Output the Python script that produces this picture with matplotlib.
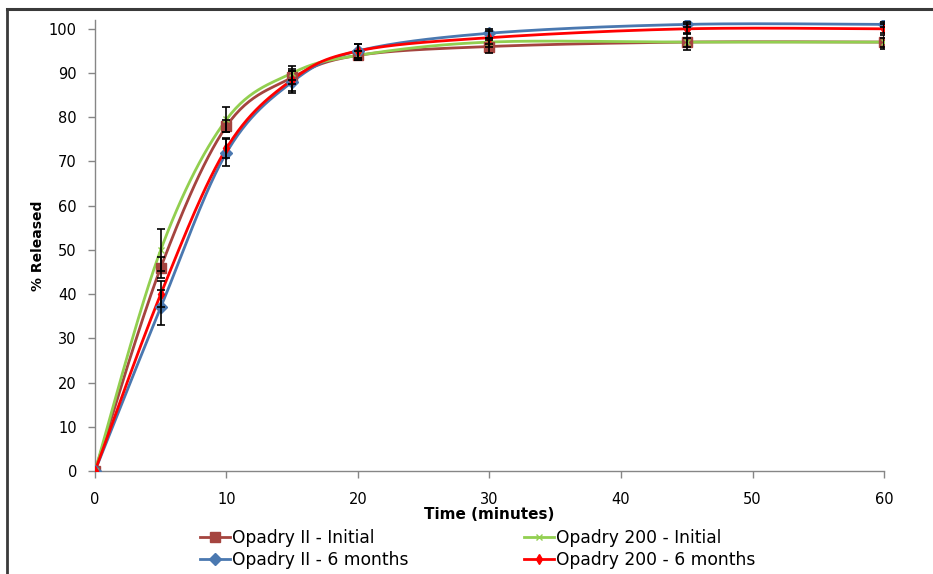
import numpy as np
import matplotlib
matplotlib.use('Agg')
import matplotlib.pyplot as plt
from matplotlib.lines import Line2D

time_min = [0, 5, 10, 15, 20, 30, 45, 60]

opadry2_init = [0, 46, 78, 89, 94, 96, 97, 97]
opadry2_init_sd = [0, 2.4, 1.3, 1.5, 1.0, 1.5, 1.8, 1.5]

opadry200_init = [0, 50, 79.5, 90, 94, 97, 97, 97]
opadry200_init_sd = [0, 4.7, 2.8, 1.5, 1.0, 1.0, 1.0, 1.0]

opadry2_6m = [0, 37, 72, 88, 95, 99, 101, 101]
opadry2_6m_sd = [0, 4.0, 3.0, 2.5, 1.5, 1.0, 0.6, 0.6]

opadry200_6m = [0, 40, 73, 88.5, 95, 98, 100, 100]
opadry200_6m_sd = [0, 3.0, 2.3, 2.5, 1.5, 1.5, 1.0, 1.0]


def smooth(x, y, n=30):
    # bezier segments through the points (excel style smoothed line)
    p = np.column_stack([x, y]).astype(float)
    pts = [p[0]]
    for i in range(len(p) - 1):
        p0 = p[i - 1] if i > 0 else p[i]
        p3 = p[i + 2] if i + 2 < len(p) else p[i + 1]
        c1 = p[i] + (p[i + 1] - p0) / 6
        c2 = p[i + 1] - (p3 - p[i]) / 6
        t = np.linspace(0, 1, n)[1:, None]
        seg = ((1 - t) ** 3 * p[i] + 3 * (1 - t) ** 2 * t * c1
               + 3 * (1 - t) * t ** 2 * c2 + t ** 3 * p[i + 1])
        pts.extend(seg)
    pts = np.array(pts)
    return pts[:, 0], pts[:, 1]


fig = plt.figure(figsize=(9.33, 5.74), dpi=100)
ax = fig.add_axes([0.1018, 0.1794, 0.8457, 0.7858])

series = [
    ('Opadry II - Initial', opadry2_init, opadry2_init_sd, '#A5443F', 's', 7),
    ('Opadry II - 6 months', opadry2_6m, opadry2_6m_sd, '#4A78B0', 'D', 6),
    ('Opadry 200 - Initial', opadry200_init, opadry200_init_sd, '#92CF50', 'x', 5),
    ('Opadry 200 - 6 months', opadry200_6m, opadry200_6m_sd, '#FF0000', 'd', 5),
]

handles = []
for name, vals, sd, col, mk, ms in series:
    sx, sy = smooth(time_min, vals)
    ax.plot(sx, sy, color=col, lw=2.0, zorder=3)
    ax.plot(time_min, vals, ls='none', marker=mk, ms=ms, color=col,
            mec=col, zorder=4)
    # no bars at t = 0
    ax.errorbar(time_min[1:], vals[1:], yerr=sd[1:], fmt='none',
                ecolor='black', elinewidth=1.2, capsize=3, capthick=1.2,
                zorder=5)
    handles.append(Line2D([], [], color=col, lw=2.0, marker=mk, ms=ms,
                          mec=col, label=name))

ax.set_xlim(0, 60)
ax.set_ylim(0, 102)
ax.set_xticks([0, 10, 20, 30, 40, 50, 60])
ax.set_yticks(range(0, 101, 10))

for s in ['top', 'right']:
    ax.spines[s].set_visible(False)
for s in ['left', 'bottom']:
    ax.spines[s].set_color('#868686')
    ax.spines[s].set_linewidth(1.0)
ax.tick_params(axis='both', colors='#868686', labelcolor='black',
               length=5, width=1.0, labelsize=10.5)
ax.tick_params(axis='y', pad=8)
ax.tick_params(axis='x', pad=10)

ax.set_xlabel('Time (minutes)', fontsize=11, fontweight='bold', labelpad=0)
ax.set_ylabel('% Released', fontsize=10, fontweight='bold', labelpad=2.5)

fig.legend(handles=handles, ncol=2, loc='upper left',
           bbox_to_anchor=(0.2144, 0.078), frameon=False, fontsize=12.3,
           handlelength=1.75, handletextpad=0.1, columnspacing=6.8,
           labelspacing=0.2, borderaxespad=0, borderpad=0)

# outer frame lines along the top and left edges
fig.add_artist(Line2D([0.0078, 1.0], [0.984, 0.984], color='#3a3a3a', lw=2.2,
                      transform=fig.transFigure))
fig.add_artist(Line2D([0.0078, 0.0078], [0.0, 0.984], color='#3a3a3a', lw=2.0,
                      transform=fig.transFigure))

fig.savefig('out.png', dpi=100)
